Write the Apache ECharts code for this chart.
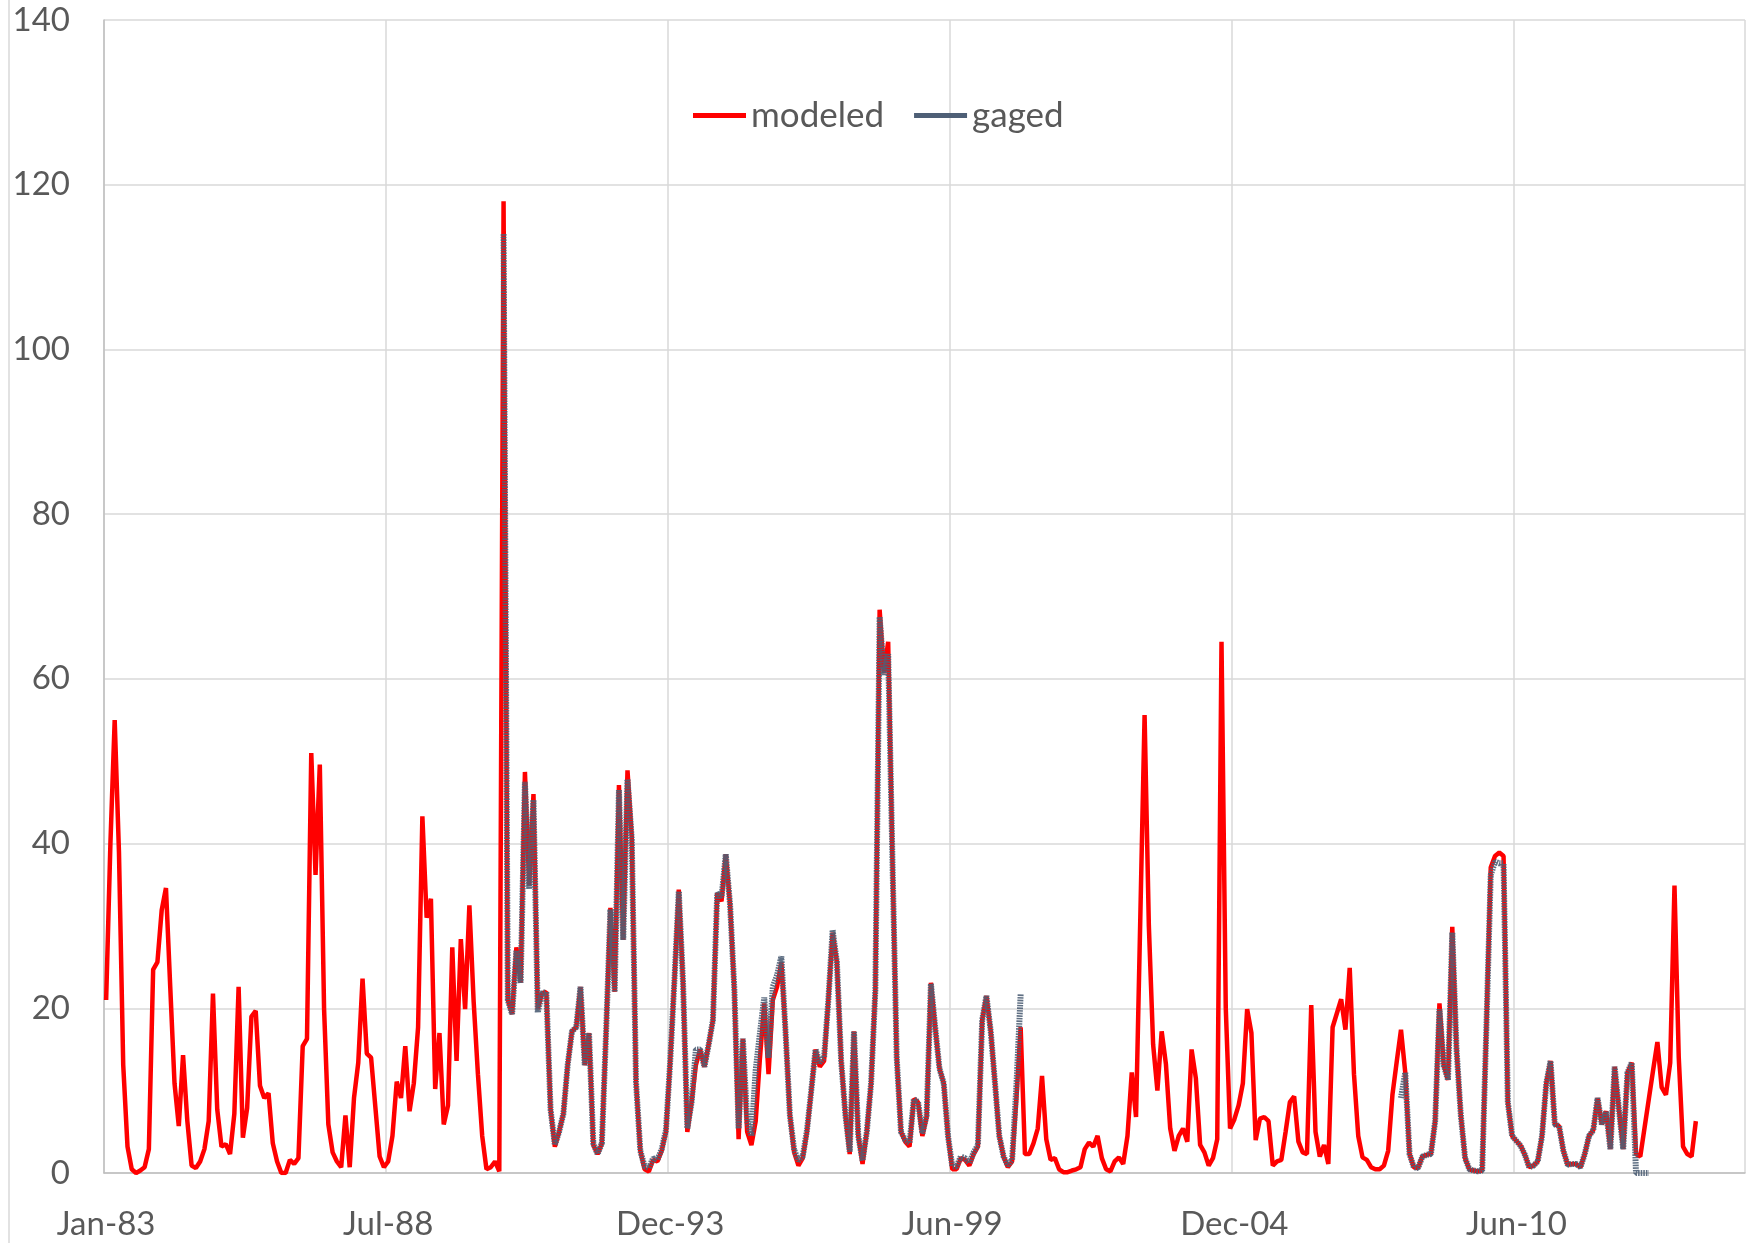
<!DOCTYPE html>
<html>
<head>
<meta charset="utf-8">
<script src="https://cdn.jsdelivr.net/npm/echarts@6/dist/echarts.min.js"></script>
<style>
  html, body { margin: 0; padding: 0; background: #fff; }
  #chart { width: 1754px; height: 1243px; }
</style>
</head>
<body>
<div id="chart"></div>
<script>
// monthly flow, Jan 1983 .. Dec 2014 (384 months on the axis)
var monthCount = 384;
var tickLabels = ['Jan-83', 'Jul-88', 'Dec-93', 'Jun-99', 'Dec-04', 'Jun-10'];
var tickStep = 66;

var modeled = [
  21, 40, 55, 39, 13.1, 3.2, 0.45, 0, 0.3, 0.7,
  2.9, 24.7, 25.6, 31.9, 34.6, 22.6, 10.9, 5.7, 14.3, 6.3,
  0.9, 0.6, 1.4, 2.9, 6.3, 21.8, 7.7, 3.2, 3.5, 2.3,
  7.2, 22.6, 4.3, 7.9, 19.0, 19.7, 10.6, 9.1, 9.7, 3.6,
  1.4, 0, 0, 1.6, 1.1, 1.8, 15.4, 16.3, 51, 36.2,
  49.6, 19.9, 5.9, 2.5, 1.4, 0.7, 7.0, 0.7, 9.1, 13.4,
  23.6, 14.5, 14.0, 8, 2.0, 0.7, 1.4, 4.5, 11.1, 9.1,
  15.4, 7.5, 10.9, 17.7, 43.3, 31.0, 33.3, 10.2, 17.0, 5.9,
  8.2, 27.4, 13.6, 28.4, 19.9, 32.5, 20.8, 12, 4.5, 0.45,
  0.7, 1.4, 0.2, 118, 21, 19.3, 27.4, 23.1, 48.7, 34.9,
  46, 19.9, 21.8, 22, 7.7, 3.2, 5, 7.2, 13.1, 17.2,
  17.7, 22.6, 13.1, 17.0, 3.4, 2.3, 3.6, 17.2, 32.2, 22,
  47.1, 28.3, 48.9, 40.8, 11, 2.7, 0.45, 0.2, 1.6, 1.4,
  2.7, 5, 13.6, 23.6, 34.4, 23.1, 5, 8.6, 13.1, 15,
  12.9, 15.6, 18.6, 34, 33, 38.7, 32.6, 22.2, 4.1, 16.3,
  5, 3.4, 6.3, 14, 20.6, 12, 21, 22.6, 25.6, 17,
  7, 2.5, 0.9, 1.8, 5, 10, 15, 12.9, 13.6, 21,
  29.2, 25.6, 13.6, 7, 2.3, 17.2, 4.5, 1.1, 5, 10.9,
  22.2, 68.4, 60.7, 64.5, 38, 14, 5, 3.8, 3.2, 9,
  8.6, 4.5, 6.8, 23.1, 17.7, 12.7, 10.9, 4.5, 0.45, 0.45,
  1.8, 1.6, 0.9, 2.3, 3.2, 18.6, 21.5, 17.2, 10.9, 4.5,
  2, 0.7, 1.4, 9, 17.7, 2.3, 2.3, 3.6, 5.4, 11.8,
  4.1, 1.6, 1.8, 0.45, 0.1, 0.1, 0.3, 0.45, 0.7, 2.9,
  3.7, 3.2, 4.5, 1.8, 0.45, 0.2, 1.4, 1.9, 1.1, 4.5,
  12.2, 6.8, 31, 55.6, 30, 15.6, 10, 17.2, 13.2, 5.4,
  2.7, 4.5, 5.4, 3.8, 15, 11.5, 3.4, 2.5, 0.9, 1.8,
  4.1, 64.5, 20, 5.4, 6.5, 8.2, 10.9, 19.9, 17, 4,
  6.6, 6.8, 6.3, 0.9, 1.4, 1.6, 5, 8.6, 9.3, 3.8,
  2.5, 2.3, 20.4, 5, 2, 3.4, 1.1, 17.7, 19.4, 21.1,
  17.4, 24.9, 12, 4.5, 1.9, 1.6, 0.7, 0.45, 0.45, 0.9,
  2.7, 9.5, 13.5, 17.4, 12.2, 2.3, 0.7, 0.6, 2.0, 2.2,
  2.3, 6.3, 20.6, 13.1, 11.3, 29.9, 15, 7, 1.8, 0.45,
  0.3, 0.2, 0.3, 18, 37.1, 38.5, 38.9, 38.5, 8.6, 4.5,
  3.9, 3.3, 2.2, 0.7, 0.9, 1.4, 4.5, 10.9, 13.6, 5.9,
  5.7, 2.7, 1.0, 1.1, 1.1, 0.7, 2.3, 4.5, 5.2, 9.1,
  5.9, 7.5, 2.9, 12.9, 7.7, 2.9, 12.2, 13.4, 2.3, 2.0,
  5.5, 9, 12.5, 15.9, 10.4, 9.5, 13.4, 34.9, 14, 3.2,
  2.3, 2.0, 6.3
];

// gaged record, two periods (first month index of each)
var gagedStartA = 93;
var gagedA = [
  114, 21, 19.3, 27, 23.1, 47.5, 34.5, 45.3, 19.5, 21.8,
  22, 7.7, 3.4, 5, 7.2, 13.1, 17.2, 17.7, 22.6, 13.1,
  17, 3.6, 2.3, 3.6, 17.2, 32, 22, 46.5, 28.3, 47.8,
  40.5, 11, 2.7, 0.8, 0.6, 1.8, 1.6, 2.9, 5.2, 13.6,
  23.6, 34.2, 23.1, 5.4, 8.6, 15, 15, 12.9, 15.6, 18.6,
  34, 33.5, 38.7, 32.6, 22.4, 5.4, 16.3, 6.3, 4.5, 12.5,
  17, 21.3, 14, 22.6, 24, 26.3, 17, 7, 2.8, 1.5,
  2, 5.2, 10, 15, 13.4, 14, 21, 29.5, 25.6, 13.6,
  7, 2.6, 17.2, 4.5, 1.5, 5, 10.9, 22.2, 67.5, 60.5,
  63, 38, 14, 5, 4, 3.6, 9, 8.6, 4.8, 7,
  23, 17.7, 12.7, 10.9, 4.5, 0.8, 0.8, 2, 1.8, 1.2,
  2.5, 3.4, 18.6, 21.5, 17.2, 10.9, 4.5, 2, 0.9, 1.6,
  10.5, 21.7
];
var gagedStartB = 303;
var gagedB = [
  9.1, 12.2, 2.3, 0.7, 0.6, 2, 2.2, 2.3, 6.3, 19.9,
  13.1, 11.3, 29.2, 15, 7, 1.8, 0.45, 0.3, 0.2, 0.3,
  18, 36.2, 37.8, 37.6, 37.6, 8.6, 4.5, 3.9, 3.3, 2.2,
  0.7, 0.9, 1.4, 4.5, 10.9, 13.6, 5.9, 5.7, 2.7, 1,
  1.1, 1.1, 0.7, 2.3, 4.5, 5.2, 9.1, 5.9, 7.5, 2.9,
  12.9, 7.7, 2.9, 12.2, 13.4, 0, 0, 0, 0
];

var months = [];
for (var i = 0; i < monthCount; i++) {
  var yr = 1983 + Math.floor(i / 12);
  var mo = (i % 12) + 1;
  months.push(yr + '-' + (mo < 10 ? '0' : '') + mo);
}

var gaged = [];
for (var j = 0; j < monthCount; j++) gaged.push(null);
gagedA.forEach(function (v, k) { gaged[gagedStartA + k] = v; });
gagedB.forEach(function (v, k) { gaged[gagedStartB + k] = v; });

var font = 'Lato, "Open Sans", sans-serif';
var redColor = '#ff0000';
var gagedColor = '#4e5f76';
var chart = echarts.init(document.getElementById('chart'));

var option = {
  animation: false,
  backgroundColor: '#ffffff',
  textStyle: { fontFamily: font },
  grid: { left: 104, right: 9, top: 20, bottom: 70, containLabel: false },
  legend: {
    left: 688,
    top: 93,
    itemWidth: 53,
    itemHeight: 5,
    itemGap: 30,
    textStyle: { fontSize: 35, color: '#595959', fontFamily: font },
    data: [
      { name: 'modeled', icon: 'rect', itemStyle: { color: redColor } },
      { name: 'gaged', icon: 'rect', itemStyle: { color: gagedColor } }
    ]
  },
  xAxis: {
    type: 'category',
    data: months,
    boundaryGap: true,
    axisLine: { show: true, lineStyle: { color: '#bfbfbf', width: 1.5 } },
    axisTick: { show: false },
    axisLabel: {
      interval: tickStep - 1,
      margin: 35,
      fontSize: 33,
      color: '#595959',
      fontFamily: font,
      formatter: function (val, idx) {
        return tickLabels[Math.round(idx / tickStep)] || '';
      }
    },
    splitLine: {
      show: true,
      interval: tickStep - 1,
      lineStyle: { color: '#d9d9d9', width: 1.5 }
    }
  },
  yAxis: {
    type: 'value',
    min: 0,
    max: 140,
    interval: 20,
    axisLine: { show: true, lineStyle: { color: '#bfbfbf', width: 1.5 } },
    axisTick: { show: false },
    axisLabel: { fontSize: 33, color: '#595959', margin: 34, fontFamily: font },
    splitLine: { lineStyle: { color: '#d9d9d9', width: 1.5 } }
  },
  series: [
    {
      name: 'modeled',
      type: 'line',
      data: modeled,
      showSymbol: false,
      symbol: 'none',
      color: redColor,
      lineStyle: { color: redColor, width: 4.5 },
      z: 2
    },
    {
      name: 'gaged',
      type: 'line',
      data: gaged,
      showSymbol: false,
      symbol: 'none',
      connectNulls: false,
      color: gagedColor,
      lineStyle: { color: gagedColor, width: 6, type: [1.6, 1], cap: 'butt', opacity: 0.9 },
      z: 3
    }
  ],
  graphic: [
    {
      type: 'line',
      shape: { x1: 9, y1: 0, x2: 9, y2: 1243 },
      style: { stroke: '#d9d9d9', lineWidth: 1.5 },
      silent: true
    }
  ]
};

chart.setOption(option);
</script>
</body>
</html>
